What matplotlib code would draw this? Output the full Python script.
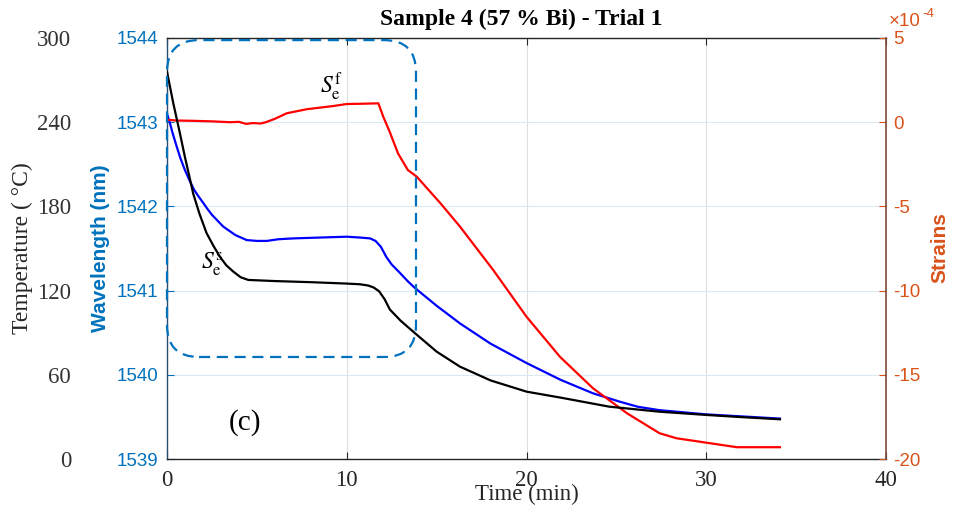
import matplotlib
matplotlib.use('Agg')
import matplotlib.pyplot as plt
from matplotlib.patches import FancyBboxPatch

plt.rcParams['axes.unicode_minus'] = False
plt.rcParams['mathtext.fontset'] = 'stix'

# ---- series data ----
# temperature (black), left outer axis
temp_time = [0.0, 0.35, 0.72, 1.0, 1.25, 1.46, 1.8, 2.2, 2.6, 2.95, 3.3, 3.69, 4.1,
             4.52, 6.0, 8.0, 10.0, 10.74, 11.2, 11.5, 11.8, 12.1, 12.4, 13.0, 13.8,
             15.0, 16.3, 18.0, 20.0, 22.0, 24.6, 27.4, 30.0, 32.0, 34.1]
temp_vals = [276, 253.5, 232, 215, 201, 189, 175, 161, 151.5, 144, 138, 133.5, 129.5,
             127.6, 126.8, 126, 125, 124.5, 123.6, 122.2, 119.5, 114, 106.5, 98.5, 89.6,
             76.5, 65.8, 56, 48, 43.5, 37.3, 33.7, 31.4, 29.8, 28.3]

# wavelength (blue), left inner axis
wl_time = [0.0, 0.15, 0.3, 0.54, 0.75, 1.0, 1.25, 1.5, 1.75, 2.02, 2.25, 2.5, 3.13,
           3.8, 4.43, 5.0, 5.55, 6.2, 7.03, 8.5, 10.0, 10.74, 11.3, 11.6, 11.9, 12.2,
           12.5, 12.96, 13.4, 13.8, 15.0, 16.3, 18.0, 20.0, 21.9, 23.7, 24.6, 25.2,
           26.2, 27.4, 30.0, 34.1]
wl_vals = [1543.10, 1543.00, 1542.88, 1542.71, 1542.57, 1542.43, 1542.31, 1542.2,
           1542.12, 1542.04, 1541.97, 1541.9, 1541.76, 1541.66, 1541.60, 1541.59,
           1541.59, 1541.61, 1541.62, 1541.63, 1541.64, 1541.63, 1541.62, 1541.59,
           1541.52, 1541.40, 1541.31, 1541.21, 1541.11, 1541.03, 1540.82, 1540.61,
           1540.37, 1540.14, 1539.94, 1539.78, 1539.72, 1539.68, 1539.62, 1539.58,
           1539.53, 1539.48]

# strain (red), right axis, in units of 1e-4
st_time = [0.0, 0.5, 1.5, 2.5, 3.5, 4.0, 4.4, 4.8, 5.2, 5.5, 6.0, 6.66, 7.77, 9.25,
           10.0, 11.0, 11.76, 12.03, 12.4, 12.85, 13.4, 13.9, 15.2, 16.3, 18.15,
           20.0, 21.86, 23.7, 25.6, 27.4, 28.35, 30.0, 31.7, 34.1]
st_vals = [0.15, 0.1, 0.08, 0.05, 0.0, 0.02, -0.1, -0.05, -0.08, 0.0, 0.2, 0.53,
           0.77, 0.96, 1.08, 1.1, 1.12, 0.33, -0.6, -1.85, -2.84, -3.24, -4.8, -6.2,
           -8.78, -11.55, -13.93, -15.8, -17.29, -18.47, -18.77, -19.03, -19.3, -19.3]

time_ticks = [0, 10, 20, 30, 40]
wl_ticks = [1539, 1540, 1541, 1542, 1543, 1544]
temp_ticks = [0, 60, 120, 180, 240, 300]
st_ticks = [-20, -15, -10, -5, 0, 5]

BLUE_AX = '#0072BD'
ORANGE = '#D95319'
DARK = '#262626'
SERIF = 'Liberation Serif'
SANS = 'Liberation Sans'

fig = plt.figure(figsize=(9.55, 5.13), dpi=100)
L, R, T, B = 167 / 955, 886 / 955, 1 - 38 / 513, 1 - 459 / 513
ax = fig.add_axes([L, B, R - L, T - B])
ax_s = ax.twinx()
ax_t = ax.twinx()

# main axis: wavelength
ax.set_xlim(0, 40)
ax.set_ylim(1539, 1544)
ax.set_xticks(time_ticks)
ax.set_yticks(wl_ticks)
ax.grid(axis='x', color='#dedede', lw=0.8)
ax.grid(axis='y', color='#dbe9f4', lw=0.8)
ax.tick_params(axis='x', direction='in', top=True, bottom=True, length=5,
               color=DARK, labelcolor=DARK, pad=8)
ax.tick_params(axis='y', direction='in', left=True, right=False, length=5,
               color=BLUE_AX, labelcolor=BLUE_AX, pad=6.5)
for lab in ax.get_xticklabels():
    lab.set_fontfamily(SERIF)
    lab.set_fontsize(16.5)
for lab in ax.get_yticklabels():
    lab.set_fontfamily(SANS)
    lab.set_fontsize(13.5)
ax.spines['left'].set_color('#2b4c6e')
ax.spines['bottom'].set_color(DARK)
ax.spines['top'].set_color(DARK)
ax.spines['right'].set_visible(False)
for sp in ax.spines.values():
    sp.set_linewidth(1.0)
ax.plot(wl_time, wl_vals, color='#0000FF', lw=1.6, zorder=3)

# strain axis (right)
ax_s.set_ylim(-20, 5)
ax_s.set_yticks(st_ticks)
ax_s.set_yticklabels([str(v) for v in st_ticks])
ax_s.tick_params(axis='y', direction='in', length=5, color=ORANGE,
                 labelcolor=ORANGE, pad=5)
for lab in ax_s.get_yticklabels():
    lab.set_fontfamily(SANS)
    lab.set_fontsize(13.5)
for k in ('left', 'top', 'bottom'):
    ax_s.spines[k].set_visible(False)
ax_s.spines['right'].set_color('#7d4a38')
ax_s.spines['right'].set_linewidth(1.2)
ax_s.plot(st_time, st_vals, color='#FF0000', lw=1.6, zorder=3)

# temperature axis (outer left, no spine)
ax_t.set_ylim(0, 300)
ax_t.set_yticks(temp_ticks)
ax_t.yaxis.set_ticks_position('left')
ax_t.spines['left'].set_position(('axes', -0.1266))
for sp in ax_t.spines.values():
    sp.set_visible(False)
ax_t.tick_params(axis='y', length=0, labelcolor='#333333', pad=3.5)
for lab in ax_t.get_yticklabels():
    lab.set_fontfamily(SERIF)
    lab.set_fontsize(16.5)
ax_t.plot(temp_time, temp_vals, color='black', lw=1.6, zorder=3)

# dashed rounded box marking the isothermal stage
r_px = 32
box = FancyBboxPatch((0.0, 0.2423), 0.3463, 0.995 - 0.2423,
                     boxstyle=f"round,pad=0,rounding_size={r_px / 719:.4f}",
                     mutation_aspect=719 / 421, transform=ax_t.transAxes,
                     fill=False, edgecolor=BLUE_AX, lw=1.6,
                     linestyle=(0, (5, 3)), clip_on=False, zorder=4)
ax_t.add_patch(box)

# annotations
ax.text(9.12, 1543.42, r'$S_\mathrm{e}^\mathrm{f}$', fontsize=17,
        ha='center', va='center', color='black')
ax.text(2.5, 1541.32, r'$S_\mathrm{e}^\mathrm{s}$', fontsize=17,
        ha='center', va='center', color='black')
ax.text(4.34, 1539.43, '(c)', fontsize=21, family=SERIF,
        ha='center', va='center', color='black')

# titles and axis labels
fig.text(521 / 955, 1 - 19 / 513, 'Sample 4 (57 % Bi) - Trial 1', ha='center',
         va='center', family=SERIF, fontweight='bold', fontsize=17)
fig.text(527 / 955, 1 - 494 / 513, 'Time (min)', ha='center', va='center',
         family=SERIF, fontsize=16.5, color=DARK)
fig.text(22 / 955, 1 - 248 / 513, 'Temperature ( °C)', rotation=90, ha='center',
         va='center', family=SERIF, fontsize=17, color=DARK)
fig.text(100 / 955, 1 - 248 / 513, 'Wavelength (nm)', rotation=90, ha='center',
         va='center', family=SANS, fontweight='bold', fontsize=15, color=BLUE_AX)
fig.text(940 / 955, 1 - 248 / 513, 'Strains', rotation=90, ha='center',
         va='center', family=SANS, fontweight='bold', fontsize=15, color=ORANGE)
fig.text(889 / 955, 1 - 22 / 513, '×10', ha='left', va='center',
         family=SANS, fontsize=13.5, color=ORANGE)
fig.text(922 / 955, 1 - 14 / 513, '-4', ha='left', va='center',
         family=SANS, fontsize=9.5, color=ORANGE)

fig.savefig('out.png', dpi=100)
